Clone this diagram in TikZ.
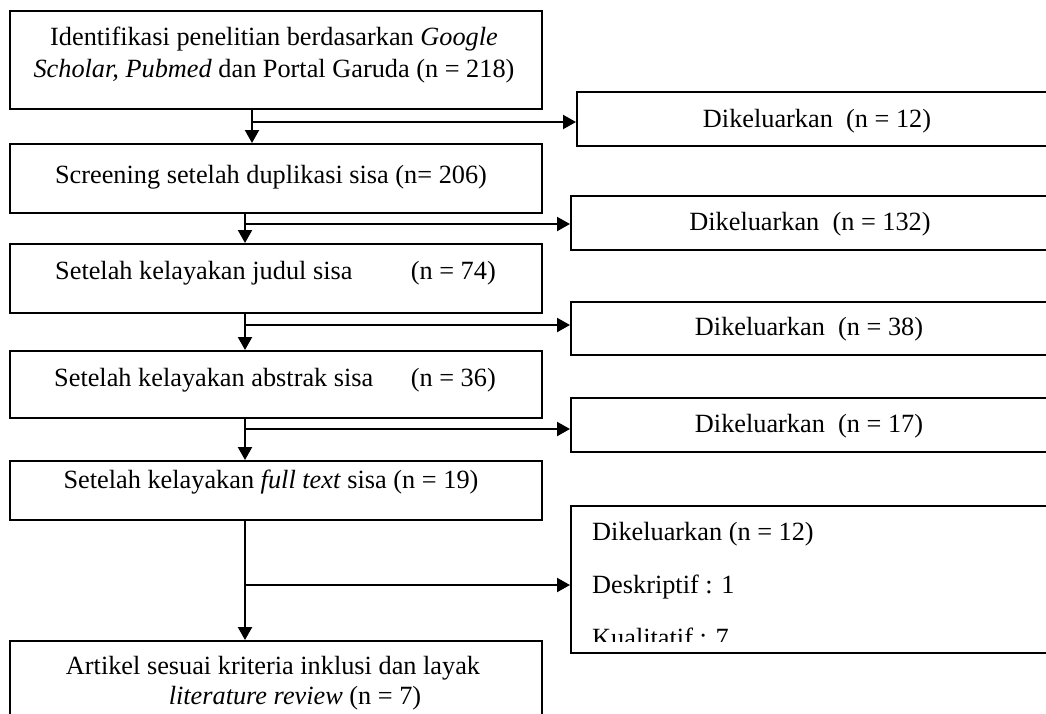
\documentclass[tikz,border=0pt]{standalone}
\usepackage{fontspec}
\setmainfont{Liberation Serif}
\usetikzlibrary{arrows.meta}
\begin{document}
\begin{tikzpicture}[x=1pt,y=-1pt,
  box/.style={draw, line width=1.8pt, rectangle, inner sep=0pt, anchor=north west},
  txt/.style={inner sep=0pt, font=\fontsize{26.3}{30}\selectfont},
  arr/.style={line width=2.2pt, -{Triangle[length=13pt,width=14pt]}}]
\useasboundingbox (0,0) rectangle (1046,713);
\clip (0,0) rectangle (1046,713);
% main column boxes
\node[box, minimum width=532pt, minimum height=98pt] (b1) at (9,10) {};
\node[box, minimum width=532pt, minimum height=69pt] (b2) at (9,143) {};
\node[box, minimum width=532pt, minimum height=69pt] (b3) at (9,243) {};
\node[box, minimum width=532pt, minimum height=67pt] (b4) at (9,350) {};
\node[box, minimum width=532pt, minimum height=59pt] (b5) at (9,460) {};
\node[box, minimum width=532pt, minimum height=100pt] (b6) at (9,640) {};
% right boxes
\node[box, minimum width=500pt, minimum height=54pt] (r1) at (576,91) {};
\node[box, minimum width=500pt, minimum height=54pt] (r2) at (570,195) {};
\node[box, minimum width=500pt, minimum height=53pt] (r3) at (570,301) {};
\node[box, minimum width=500pt, minimum height=54pt] (r4) at (570,397) {};
\node[box, minimum width=500pt, minimum height=147pt] (r5) at (570,505) {};
% texts
\node[txt, anchor=base] (t1a) at (274,45) {Identifikasi penelitian berdasarkan \textit{Google}};
\node[txt, anchor=base] (t1b) at (274,77) {\textit{Scholar, Pubmed} dan Portal Garuda (n = 218)};
\node[txt, anchor=base] (t2) at (271,183) {Screening setelah duplikasi sisa (n= 206)};
\node[txt, anchor=base west] (t3a) at (55,279) {Setelah kelayakan judul sisa};
\node[txt, anchor=base east] (t3b) at (496,279) {(n = 74)};
\node[txt, anchor=base west] (t4a) at (54,386) {Setelah kelayakan abstrak sisa};
\node[txt, anchor=base east] (t4b) at (496,386) {(n = 36)};
\node[txt, anchor=base] (t5) at (271,488) {Setelah kelayakan \textit{full text} sisa (n = 19)};
\node[txt, anchor=base] (t6a) at (273,674) {Artikel sesuai kriteria inklusi dan layak};
\node[txt, anchor=base] (t6b) at (295,704) {\textit{literature review} (n = 7)};
\node[txt, anchor=base] (s1) at (817,127) {Dikeluarkan~ (n = 12)};
\node[txt, anchor=base] (s2) at (810,230) {Dikeluarkan~ (n = 132)};
\node[txt, anchor=base] (s3) at (809,335) {Dikeluarkan~ (n = 38)};
\node[txt, anchor=base] (s4) at (809,432) {Dikeluarkan~ (n = 17)};
\begin{scope}
\clip (572,507) rectangle (1046,641);
\node[txt, anchor=base west] (s5a) at (592,540) {Dikeluarkan (n = 12)};
\node[txt, anchor=base west] (s5b) at (592,593) {Deskriptif : 1};
\node[txt, anchor=base west] (s5c) at (592,646) {Kualitatif : 7};
\end{scope}
% junctions
\coordinate (j1) at (252,122);
\coordinate (j2) at (245,224);
\coordinate (j3) at (245,325);
\coordinate (j4) at (245,429);
\coordinate (j5) at (245,585);
% connectors
\draw[arr] (b1.south -| j1) -- (b2.north -| j1);
\draw[arr] (j1) -- (r1.west |- j1);
\draw[arr] (b2.south -| j2) -- (b3.north -| j2);
\draw[arr] (j2) -- (r2.west |- j2);
\draw[arr] (b3.south -| j3) -- (b4.north -| j3);
\draw[arr] (j3) -- (r3.west |- j3);
\draw[arr] (b4.south -| j4) -- (b5.north -| j4);
\draw[arr] (j4) -- (r4.west |- j4);
\draw[arr] (b5.south -| j5) -- (b6.north -| j5);
\draw[arr] (j5) -- (r5.west |- j5);
\end{tikzpicture}
\end{document}
